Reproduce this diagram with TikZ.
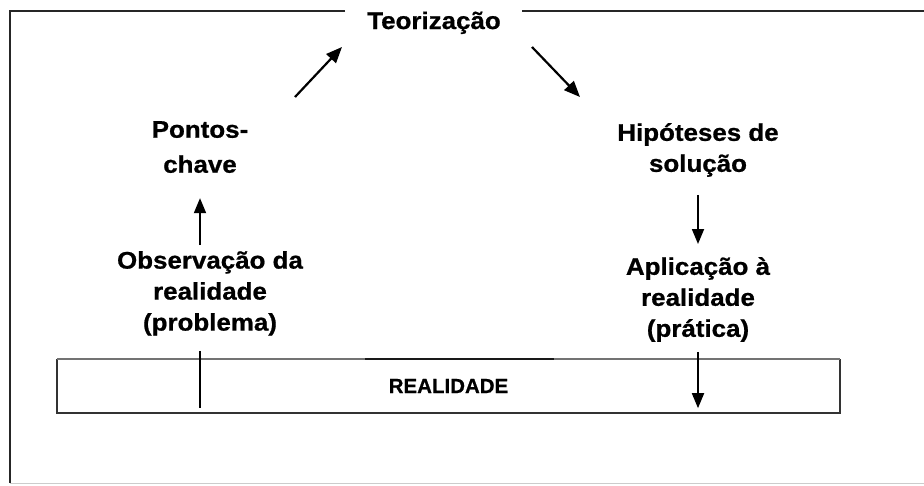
\documentclass[tikz,border=0pt]{standalone}
\usepackage{fontspec}
\setmainfont{Liberation Sans}[FakeBold=0.6]
\newfontfamily\lblfont{Liberation Sans}[FakeStretch=1.08,FakeBold=0.8]
\usetikzlibrary{arrows.meta}
\begin{document}
\begin{tikzpicture}[x=1pt,y=-1pt,
  lbl/.style={font=\lblfont\bfseries\fontsize{24}{31}\selectfont, align=center, inner sep=0pt},
  arr/.style={line width=1.8pt, -{Triangle[length=15pt,width=12pt]}},
  darr/.style={line width=2.2pt, -{Triangle[length=16pt,width=13pt]}},
  frame/.style={line width=2.2pt, black!85},
  ]
\useasboundingbox (0,0) rectangle (924,485);
% outer frame
\draw[frame] (345,11) -- (10,11) -- (10,483);
\draw[frame] (522,11) -- (924,11);
\draw[black!20, line width=1pt] (10,483) -- (924,483);
% labels
\node[lbl, anchor=base] (teo) at (434,29) {Teorização};
\node[lbl, anchor=north] (pontos) at (200,121) {Pontos-\\[4pt]chave};
\node[lbl, anchor=north] (obs) at (210,251) {Observação da\\realidade\\(problema)};
\node[lbl, anchor=north] (hip) at (698,123) {Hipóteses de\\solução};
\node[lbl, anchor=north] (apl) at (698,257) {Aplicação à\\realidade\\(prática)};
% realidade box
\node[inner sep=0pt, minimum width=783pt, minimum height=54pt,
      font=\bfseries\fontsize{20.5}{24}\selectfont] (real) at (448.5,386) {REALIDADE};
\draw[line width=1.7pt, black!80] (real.north west) -- (real.south west) -- (real.south east) -- (real.north east);
\draw[line width=1.5pt, black!55] (real.north west) -- (real.north east);
\draw[line width=1.7pt, black!90] (365,359) -- (554,359);
% diagonal connectors
\coordinate (d1a) at (295,97);
\coordinate (d1b) at (342,47);
\coordinate (d2a) at (532,47);
\coordinate (d2b) at (580,97);
\draw[darr] (d1a) -- (d1b);
\draw[darr] (d2a) -- (d2b);
% vertical connectors
\draw[arr, shorten <=6pt, shorten >=25pt] (pontos.south |- obs.north) -- (pontos.south);
\draw[arr, shorten <=18pt, shorten >=13pt] (hip.south) -- (apl.north);
\draw[line width=1.7pt, shorten <=15pt, shorten >=5pt] (pontos.south |- obs.south) -- (pontos.south |- real.south);
\draw[arr, shorten <=10pt, shorten >=5pt] (apl.south) -- (apl.south |- real.south);
\end{tikzpicture}
\end{document}
